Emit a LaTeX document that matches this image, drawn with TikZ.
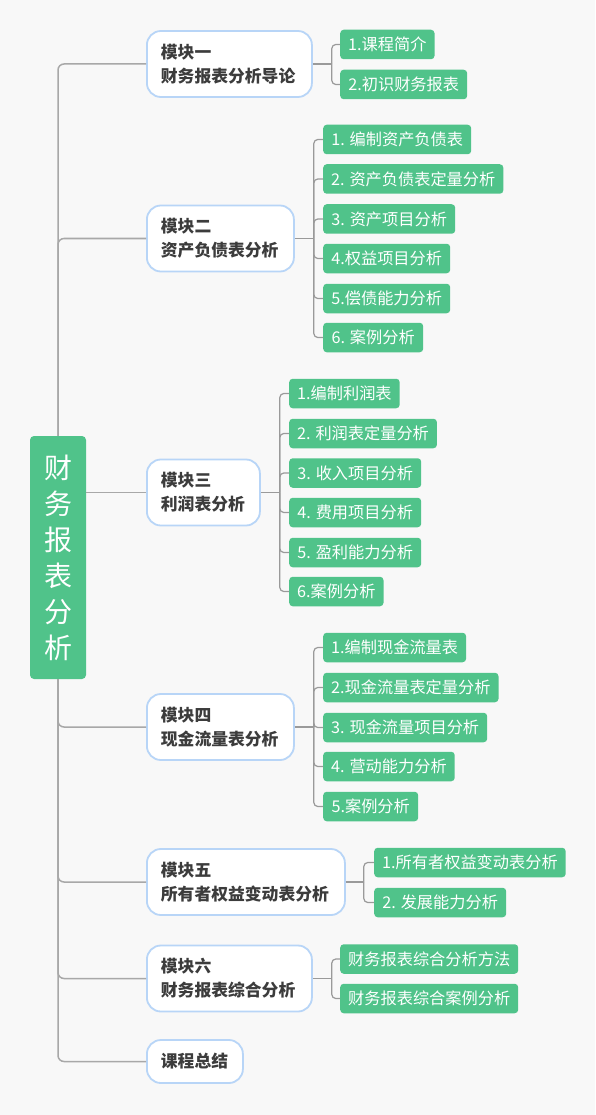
\documentclass[tikz,border=0pt]{standalone}
\usepackage{fontspec}
\setmainfont{Noto Sans CJK SC}
\definecolor{bgcol}{HTML}{F8F8F8}
\definecolor{leafgreen}{HTML}{50C38A}
\definecolor{modborder}{HTML}{B8D5F7}
\definecolor{modtext}{HTML}{3C3C3C}
\definecolor{trunkgray}{HTML}{A8A8A8}
\definecolor{branchgray}{HTML}{9A9A9A}
\begin{document}
\begin{tikzpicture}[x=1pt,y=1pt,
  rootbox/.style={fill=leafgreen, rounded corners=4pt, text=white, align=center,
    font=\fontsize{28}{36}\selectfont, minimum width=56pt, minimum height=243pt, inner sep=0pt},
  module/.style={draw=modborder, line width=1.8pt, fill=white, rounded corners=14pt,
    font=\fontsize{16.8}{24}\selectfont\bfseries, text=modtext, align=left, anchor=west,
    minimum height=66pt, inner xsep=14pt, inner ysep=0pt},
  leaf/.style={fill=leafgreen, rounded corners=3.5pt, text=white, anchor=west,
    font=\fontsize{16.2}{18}\selectfont, minimum height=29.5pt, inner xsep=8pt, inner ysep=0pt},
  trunk/.style={draw=trunkgray, line width=1.5pt, rounded corners=6pt},
  branch/.style={draw=branchgray, line width=1.2pt, rounded corners=4pt}]
\fill[bgcol] (0,0) rectangle (595,-1115);
\useasboundingbox (0,0) rectangle (595,-1115);

% root
\node[rootbox] (root) at (58,-557.5) {财\\务\\报\\表\\分\\析};

% modules
\node[module, text width=137pt] (m1) at (146,-64) {模块一\\财务报表分析导论};
\node[module, text width=119pt] (m2) at (146,-238.5) {模块二\\资产负债表分析};
\node[module, text width=85pt] (m3) at (146,-492.5) {模块三\\利润表分析};
\node[module, text width=119pt] (m4) at (146,-727) {模块四\\现金流量表分析};
\node[module, text width=170pt] (m5) at (146,-882) {模块五\\所有者权益变动表分析};
\node[module, text width=137pt] (m6) at (146,-978.5) {模块六\\财务报表综合分析};
\node[module, text width=68pt, minimum height=43pt] (m7) at (146,-1061.5) {课程总结};

% leaves module 1
\node[leaf, minimum width=94pt] (a1) at (340,-44.5) {1.课程简介};
\node[leaf, minimum width=127pt] (a2) at (340,-84.5) {2.初识财务报表};
% module 2
\node[leaf, minimum width=148pt] (b1) at (323,-139.5) {1. 编制资产负债表};
\node[leaf, minimum width=180pt] (b2) at (323,-179) {2. 资产负债表定量分析};
\node[leaf, minimum width=132pt] (b3) at (323,-219) {3. 资产项目分析};
\node[leaf, minimum width=127pt] (b4) at (323,-258.5) {4.权益项目分析};
\node[leaf, minimum width=127pt] (b5) at (323,-298.5) {5.偿债能力分析};
\node[leaf, minimum width=100pt] (b6) at (323,-337.5) {6. 案例分析};
% module 3
\node[leaf, minimum width=110pt] (c1) at (289,-393.5) {1.编制利润表};
\node[leaf, minimum width=147pt] (c2) at (289,-433.5) {2. 利润表定量分析};
\node[leaf, minimum width=132pt] (c3) at (289,-473) {3. 收入项目分析};
\node[leaf, minimum width=132pt] (c4) at (289,-512.5) {4. 费用项目分析};
\node[leaf, minimum width=132pt] (c5) at (289,-552.5) {5. 盈利能力分析};
\node[leaf, minimum width=94pt] (c6) at (289,-591.5) {6.案例分析};
% module 4
\node[leaf, minimum width=142pt] (d1) at (323,-647.5) {1.编制现金流量表};
\node[leaf, minimum width=174pt] (d2) at (323,-687.5) {2.现金流量表定量分析};
\node[leaf, minimum width=164pt] (d3) at (323,-727.5) {3. 现金流量项目分析};
\node[leaf, minimum width=131pt] (d4) at (323,-766.5) {4. 营动能力分析};
\node[leaf, minimum width=95pt] (d5) at (323,-806.5) {5.案例分析};
% module 5
\node[leaf, minimum width=191pt] (e1) at (374,-862.5) {1.所有者权益变动表分析};
\node[leaf, minimum width=132pt] (e2) at (374,-902.5) {2. 发展能力分析};
% module 6
\node[leaf, minimum width=178pt] (f1) at (340,-959) {财务报表综合分析方法};
\node[leaf, minimum width=178pt] (f2) at (340,-998.5) {财务报表综合案例分析};

% trunk connectors
\draw[trunk] (root.north) |- (m1.west);
\draw[trunk] (root.north) |- (m2.west);
\draw[trunk] (root.east |- m3.west) -- (m3.west);
\draw[trunk] (root.south) |- (m4.west);
\draw[trunk] (root.south) |- (m5.west);
\draw[trunk] (root.south) |- (m6.west);
\draw[trunk] (root.south) |- (m7.west);

% branch points
\coordinate (p1) at ([xshift=19pt]m1.east);
\coordinate (p2) at ([xshift=19pt]m2.east);
\coordinate (p3) at ([xshift=19pt]m3.east);
\coordinate (p4) at ([xshift=19pt]m4.east);
\coordinate (p5) at ([xshift=18pt]m5.east);
\coordinate (p6) at ([xshift=19pt]m6.east);

\draw[branch] (m1.east) -- (p1);
\foreach \n in {a1,a2} \draw[branch] (p1) |- (\n.west);
\draw[branch] (m2.east) -- (p2);
\foreach \n in {b1,b2,b3,b4,b5,b6} \draw[branch] (p2) |- (\n.west);
\draw[branch] (m3.east) -- (p3);
\foreach \n in {c1,c2,c3,c4,c5,c6} \draw[branch] (p3) |- (\n.west);
\draw[branch] (m4.east) -- (p4);
\foreach \n in {d1,d2,d3,d4,d5} \draw[branch] (p4) |- (\n.west);
\draw[branch] (m5.east) -- (p5);
\foreach \n in {e1,e2} \draw[branch] (p5) |- (\n.west);
\draw[branch] (m6.east) -- (p6);
\foreach \n in {f1,f2} \draw[branch] (p6) |- (\n.west);
\end{tikzpicture}
\end{document}
